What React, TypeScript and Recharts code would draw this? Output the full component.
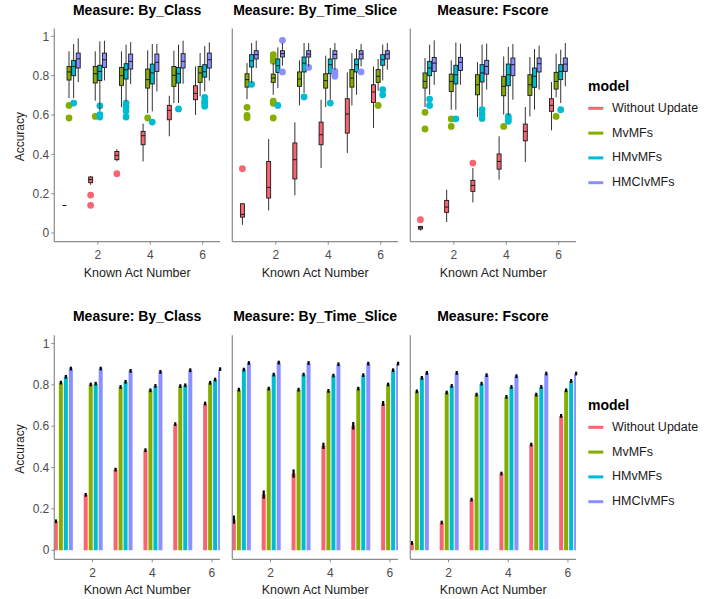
import { ComposedChart, Bar, XAxis, YAxis, ErrorBar } from "recharts";

const acts = [1, 2, 3, 4, 5, 6];
const models = ["Without Update", "MvMFs", "HMvMFs", "HMCIvMFs"];
const measures = ["By_Class", "By_Time_Slice", "Fscore"];
const colors = ["#F8646F", "#84AD00", "#00BCD2", "#8A90FF"];
const yTicks = [0, 0.2, 0.4, 0.6, 0.8, 1];
const xTicks = [2, 4, 6];

// boxplot stats per act: [lower whisker, q1, median, q3, upper whisker]
const classWithout = [
  [0.14, 0.14, 0.14, 0.14, 0.14],
  [0.245, 0.256, 0.272, 0.285, 0.29],
  [0.365, 0.373, 0.395, 0.415, 0.427],
  [0.364, 0.449, 0.495, 0.517, 0.556],
  [0.492, 0.576, 0.624, 0.649, 0.698],
  [0.6, 0.678, 0.71, 0.749, 0.847],
];
const classMv = [
  [0.686, 0.778, 0.819, 0.847, 0.924],
  [0.673, 0.763, 0.81, 0.847, 0.924],
  [0.64, 0.751, 0.8, 0.842, 0.924],
  [0.61, 0.737, 0.78, 0.834, 0.929],
  [0.661, 0.746, 0.802, 0.847, 0.927],
  [0.695, 0.766, 0.814, 0.847, 0.915],
];
const classHm = [
  [0.686, 0.8, 0.847, 0.878, 0.961],
  [0.62, 0.775, 0.822, 0.853, 0.975],
  [0.669, 0.783, 0.83, 0.861, 0.958],
  [0.619, 0.758, 0.814, 0.859, 0.961],
  [0.661, 0.763, 0.81, 0.842, 0.958],
  [0.72, 0.793, 0.82, 0.856, 0.95],
];
const classHmci = [
  [0.768, 0.839, 0.886, 0.915, 0.99],
  [0.776, 0.842, 0.881, 0.915, 0.978],
  [0.758, 0.834, 0.873, 0.91, 0.971],
  [0.72, 0.822, 0.868, 0.91, 0.961],
  [0.759, 0.839, 0.873, 0.912, 0.978],
  [0.775, 0.839, 0.881, 0.915, 0.969],
];

const sliceWithout = [
  [0.042, 0.081, 0.095, 0.149, 0.149],
  [0.115, 0.178, 0.232, 0.364, 0.478],
  [0.192, 0.275, 0.373, 0.458, 0.563],
  [0.331, 0.449, 0.5, 0.564, 0.678],
  [0.407, 0.508, 0.605, 0.683, 0.817],
  [0.534, 0.664, 0.717, 0.754, 0.847],
];
const sliceMv = [
  [0.681, 0.742, 0.78, 0.81, 0.864],
  [0.703, 0.766, 0.788, 0.808, 0.864],
  [0.649, 0.746, 0.783, 0.819, 0.878],
  [0.641, 0.737, 0.775, 0.81, 0.902],
  [0.649, 0.742, 0.788, 0.831, 0.915],
  [0.724, 0.766, 0.797, 0.831, 0.885],
];
const sliceHm = [
  [0.763, 0.844, 0.876, 0.907, 0.966],
  [0.737, 0.817, 0.851, 0.885, 0.944],
  [0.712, 0.819, 0.864, 0.895, 0.966],
  [0.678, 0.81, 0.856, 0.885, 0.941],
  [0.703, 0.819, 0.856, 0.885, 0.936],
  [0.776, 0.853, 0.881, 0.907, 0.958],
];
const sliceHmci = [
  [0.839, 0.885, 0.907, 0.927, 0.978],
  [0.851, 0.895, 0.912, 0.927, 0.966],
  [0.847, 0.895, 0.91, 0.927, 0.966],
  [0.83, 0.886, 0.908, 0.927, 0.966],
  [0.847, 0.885, 0.91, 0.927, 0.961],
  [0.83, 0.885, 0.91, 0.927, 0.966],
];

const fscoreWithout = [
  [0.012, 0.02, 0.027, 0.034, 0.036],
  [0.056, 0.105, 0.132, 0.166, 0.22],
  [0.156, 0.212, 0.242, 0.268, 0.331],
  [0.271, 0.325, 0.364, 0.402, 0.492],
  [0.361, 0.469, 0.517, 0.554, 0.641],
  [0.522, 0.619, 0.649, 0.683, 0.768],
];
const fscoreMv = [
  [0.641, 0.737, 0.771, 0.814, 0.89],
  [0.627, 0.72, 0.771, 0.808, 0.878],
  [0.59, 0.703, 0.754, 0.805, 0.869],
  [0.602, 0.698, 0.746, 0.797, 0.898],
  [0.593, 0.7, 0.754, 0.805, 0.895],
  [0.69, 0.732, 0.771, 0.817, 0.912],
];
const fscoreHm = [
  [0.703, 0.8, 0.839, 0.873, 0.958],
  [0.627, 0.758, 0.805, 0.853, 0.969],
  [0.644, 0.768, 0.814, 0.856, 0.958],
  [0.598, 0.749, 0.805, 0.859, 0.946],
  [0.627, 0.741, 0.797, 0.839, 0.936],
  [0.661, 0.78, 0.822, 0.856, 0.932],
];
const fscoreHmci = [
  [0.754, 0.822, 0.864, 0.893, 0.98],
  [0.754, 0.827, 0.868, 0.893, 0.963],
  [0.729, 0.808, 0.847, 0.878, 0.963],
  [0.678, 0.8, 0.856, 0.89, 0.961],
  [0.729, 0.819, 0.861, 0.89, 0.953],
  [0.746, 0.822, 0.859, 0.89, 0.966],
];

// outliers per act
const classWithoutOut = [[], [0.193, 0.141], [0.302], [], [], []];
const classMvOut = [[0.649, 0.585], [0.593], [], [0.585], [], []];
const classHmOut = [[0.661], [0.647, 0.602, 0.59], [0.661, 0.641, 0.62, 0.59], [0.564], [0.631], [0.69, 0.67, 0.66, 0.645]];
const classHmciOut = [[], [], [], [], [], []];
const sliceWithoutOut = [[0.327], [], [], [], [], []];
const sliceMvOut = [[0.639, 0.598, 0.586], [0.907, 0.89, 0.873, 0.67, 0.66, 0.585], [], [], [], [0.649]];
const sliceHmOut = [[0.756], [0.649], [0.692], [0.661], [], [0.729, 0.703]];
const sliceHmciOut = [[], [0.98, 0.819], [0.842], [0.822, 0.81, 0.797], [0.819], []];
const fscoreWithoutOut = [[0.068], [], [0.356], [], [], []];
const fscoreMvOut = [[0.614, 0.529], [0.58, 0.542], [], [0.542], [], [0.593]];
const fscoreHmOut = [[0.681, 0.649], [0.581], [0.627, 0.605, 0.583], [0.593, 0.58, 0.568], [], [0.627]];
const fscoreHmciOut = [[], [], [], [], [], []];

// mean accuracy per act
const classWithoutMean = [0.14, 0.268, 0.39, 0.484, 0.61, 0.71];
const classMvMean = [0.811, 0.802, 0.79, 0.774, 0.794, 0.81];
const classHmMean = [0.839, 0.806, 0.815, 0.795, 0.798, 0.826];
const classHmciMean = [0.879, 0.879, 0.868, 0.863, 0.871, 0.876];
const sliceWithoutMean = [0.148, 0.269, 0.371, 0.505, 0.602, 0.71];
const sliceMvMean = [0.777, 0.782, 0.777, 0.771, 0.782, 0.802];
const sliceHmMean = [0.874, 0.85, 0.85, 0.845, 0.847, 0.871];
const sliceHmciMean = [0.906, 0.908, 0.906, 0.9, 0.903, 0.903];
const fscoreWithoutMean = [0.035, 0.134, 0.245, 0.371, 0.511, 0.65];
const fscoreMvMean = [0.769, 0.763, 0.753, 0.742, 0.753, 0.774];
const fscoreHmMean = [0.834, 0.795, 0.806, 0.79, 0.79, 0.819];
const fscoreHmciMean = [0.858, 0.858, 0.847, 0.842, 0.855, 0.855];

// error half-widths
const smallErr = [0.009, 0.009, 0.009, 0.009, 0.009, 0.009];
const sliceWithoutErr = [0.02, 0.02, 0.02, 0.015, 0.018, 0.012];

const boxStats = [
  [classWithout, classMv, classHm, classHmci],
  [sliceWithout, sliceMv, sliceHm, sliceHmci],
  [fscoreWithout, fscoreMv, fscoreHm, fscoreHmci],
];
const boxOutliers = [
  [classWithoutOut, classMvOut, classHmOut, classHmciOut],
  [sliceWithoutOut, sliceMvOut, sliceHmOut, sliceHmciOut],
  [fscoreWithoutOut, fscoreMvOut, fscoreHmOut, fscoreHmciOut],
];
const means = [
  [classWithoutMean, classMvMean, classHmMean, classHmciMean],
  [sliceWithoutMean, sliceMvMean, sliceHmMean, sliceHmciMean],
  [fscoreWithoutMean, fscoreMvMean, fscoreHmMean, fscoreHmciMean],
];
const errs = [
  [smallErr, smallErr, smallErr, smallErr],
  [sliceWithoutErr, smallErr, smallErr, smallErr],
  [smallErr, smallErr, smallErr, smallErr],
];

const FONT = '"Liberation Sans", Arial, Helvetica, sans-serif';
const PLOT_W = 165.7;
const Y_AXIS_W = 54.3;
const panelLefts = [54.3, 232.3, 410];
const axisStroke = "#8c8c8c";
const tickStyle = { fill: "#4d4d4d", fontSize: 12 };
const labelStyle = { fill: "#222", fontSize: 12.5 };

// draws one box from the bar rect: bar runs 0..upper whisker, so its rect gives the y scale
const BoxShape = (props: any) => {
  const { x, y, width, height, payload, k } = props;
  const s: number[] = payload[`s${k}`];
  const outs: number[] = payload[`o${k}`];
  const unit = height / s[4];
  const base = y + height;
  const py = (v: number) => base - v * unit;
  const cx = x + width / 2;
  const c = colors[k];
  return (
    <g>
      {outs.map((v, i) => (
        <circle key={i} cx={cx} cy={py(v)} r={3.4} fill={c} />
      ))}
      <line x1={cx} x2={cx} y1={py(s[0])} y2={py(s[4])} stroke="#333" strokeWidth={1} />
      <rect
        x={x}
        y={py(s[3])}
        width={width}
        height={py(s[1]) - py(s[3])}
        fill={c}
        stroke="#1a1a1a"
        strokeWidth={0.9}
      />
      <line x1={x} x2={x + width} y1={py(s[2])} y2={py(s[2])} stroke="#1a1a1a" strokeWidth={1} />
    </g>
  );
};

const BoxPanel = ({ mi }: { mi: number }) => {
  const data = acts.map((act, i) => {
    const row: any = { act };
    boxStats[mi].forEach((b, k) => {
      row[`s${k}`] = b[i];
      row[`hi${k}`] = b[i][4];
      row[`o${k}`] = boxOutliers[mi][k][i];
    });
    return row;
  });

  return (
    <div style={{ position: "absolute", left: panelLefts[mi] - Y_AXIS_W, top: 0 }}>
      <ComposedChart
        width={Y_AXIS_W + PLOT_W + 4}
        height={285}
        data={data}
        margin={{ top: 28.5, right: 4, bottom: 0, left: 0 }}
        barCategoryGap="15%"
        barGap={0.6}
      >
        <XAxis
          type="number"
          dataKey="act"
          domain={[0.34, 6.66]}
          ticks={xTicks}
          allowDataOverflow
          height={43.3}
          tickSize={3}
          tickMargin={6}
          axisLine={{ stroke: axisStroke, strokeWidth: 1.2 }}
          tickLine={{ stroke: axisStroke }}
          tick={tickStyle}
          label={{ value: "Known Act Number", position: "insideBottom", offset: 8.3, ...labelStyle }}
        />
        <YAxis
          type="number"
          domain={[-0.044, 1.04]}
          ticks={yTicks}
          allowDataOverflow
          width={Y_AXIS_W}
          tickSize={3}
          tickMargin={2}
          axisLine={{ stroke: axisStroke, strokeWidth: 1.2 }}
          tickLine={{ stroke: axisStroke }}
          tick={mi === 0 ? tickStyle : false}
        />
        {models.map((m, k) => (
          <Bar
            key={m}
            dataKey={`hi${k}`}
            isAnimationActive={false}
            shape={(p: any) => <BoxShape {...p} k={k} />}
          />
        ))}
      </ComposedChart>
    </div>
  );
};

const BarPanel = ({ mi }: { mi: number }) => {
  const data = acts.map((act, i) => {
    const row: any = { act };
    means[mi].forEach((arr, k) => {
      row[`m${k}`] = arr[i];
      row[`e${k}`] = errs[mi][k][i];
    });
    return row;
  });

  return (
    <div style={{ position: "absolute", left: panelLefts[mi] - Y_AXIS_W, top: 300 }}>
      <ComposedChart
        width={Y_AXIS_W + PLOT_W + 4}
        height={299.3}
        data={data}
        margin={{ top: 35.3, right: 4, bottom: 0, left: 0 }}
        barCategoryGap="20.5%"
        barGap={1}
      >
        <XAxis
          type="number"
          dataKey="act"
          domain={[0.72, 6.27]}
          ticks={xTicks}
          allowDataOverflow
          height={40}
          tickSize={3}
          tickMargin={6}
          axisLine={{ stroke: axisStroke, strokeWidth: 1.2 }}
          tickLine={{ stroke: axisStroke }}
          tick={tickStyle}
          label={{ value: "Known Act Number", position: "insideBottom", offset: 5, ...labelStyle }}
        />
        <YAxis
          type="number"
          domain={[-0.044, 1.04]}
          ticks={yTicks}
          allowDataOverflow
          width={Y_AXIS_W}
          tickSize={3}
          tickMargin={2}
          axisLine={{ stroke: axisStroke, strokeWidth: 1.2 }}
          tickLine={{ stroke: axisStroke }}
          tick={mi === 0 ? tickStyle : false}
        />
        {models.map((m, k) => (
          <Bar key={m} dataKey={`m${k}`} fill={colors[k]} isAnimationActive={false}>
            <ErrorBar dataKey={`e${k}`} width={0} strokeWidth={2.2} stroke="#000" direction="y" />
          </Bar>
        ))}
      </ComposedChart>
    </div>
  );
};

const Legend = ({ top }: { top: number }) => (
  <g>
    <text x={588} y={top + 4.5} fontSize={14} fontWeight="bold" fill="#000">
      model
    </text>
    {models.map((m, k) => (
      <g key={m}>
        <rect x={588.3} y={top + 22.3 + k * 24.8 - 1.5} width={15} height={3} fill={colors[k]} />
        <text x={612} y={top + 25.7 + k * 24.8} fontSize={12.5} fill="#1a1a1a">
          {m}
        </text>
      </g>
    ))}
  </g>
);

const Overlay = () => (
  <svg
    width={720}
    height={599}
    style={{ position: "absolute", left: 0, top: 0, pointerEvents: "none" }}
  >
    {[15.3, 321].map((base, r) =>
      measures.map((ms, mi) => (
        <text
          key={`${r}-${ms}`}
          x={panelLefts[mi] + PLOT_W / 2}
          y={base}
          textAnchor="middle"
          fontSize={14}
          fontWeight="bold"
          fill="#000"
        >
          {`Measure: ${ms}`}
        </text>
      ))
    )}
    {[136.7, 449].map((cy, r) => (
      <text
        key={r}
        transform={`translate(23.8,${cy}) rotate(-90)`}
        textAnchor="middle"
        fontSize={12}
        fill="#222"
      >
        Accuracy
      </text>
    ))}
    <Legend top={86} />
    <Legend top={405} />
  </svg>
);

export default function App() {
  return (
    <div
      style={{
        position: "absolute",
        left: 0,
        top: 0,
        width: 720,
        height: 599,
        overflow: "hidden",
        background: "#fff",
        fontFamily: FONT,
      }}
    >
      {measures.map((ms, mi) => (
        <BoxPanel key={`box-${ms}`} mi={mi} />
      ))}
      {measures.map((ms, mi) => (
        <BarPanel key={`bar-${ms}`} mi={mi} />
      ))}
      <Overlay />
    </div>
  );
}
